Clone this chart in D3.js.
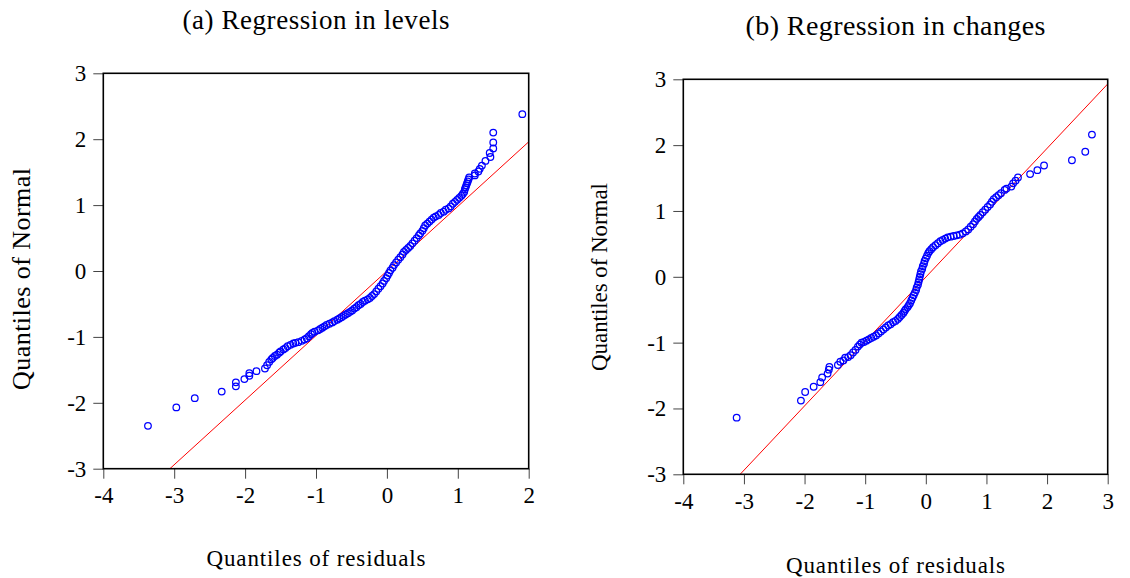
<!DOCTYPE html>
<html>
<head>
<meta charset="utf-8">
<script src="https://cdn.jsdelivr.net/npm/d3@7"></script>
<style>
  body { margin: 0; background: #fff; }
  svg text { font-family: "Liberation Serif", "Times New Roman", serif; fill: #000; }
</style>
</head>
<body>
<svg id="chart" width="1130" height="578"></svg>
<script>
// (a) regression in levels: [quantile of residuals, quantile of normal]
const levelsQQ = [
  [-3.37,-2.35],[-2.97,-2.07],[-2.71,-1.93],[-2.33,-1.83],[-2.13,-1.75],[-2.13,-1.69],
  [-2.01,-1.64],[-1.94,-1.59],[-1.94,-1.55],[-1.84,-1.52],[-1.72,-1.48],[-1.69,-1.43],
  [-1.66,-1.38],[-1.63,-1.34],[-1.61,-1.32],[-1.58,-1.29],[-1.55,-1.27],[-1.52,-1.24],
  [-1.50,-1.22],[-1.46,-1.19],[-1.43,-1.17],[-1.40,-1.14],[-1.36,-1.12],[-1.32,-1.10],
  [-1.29,-1.09],[-1.25,-1.08],[-1.20,-1.06],[-1.16,-1.04],[-1.13,-1.02],[-1.10,-0.99],
  [-1.07,-0.96],[-1.05,-0.94],[-1.02,-0.92],[-0.97,-0.90],[-0.94,-0.88],[-0.91,-0.86],
  [-0.88,-0.84],[-0.85,-0.82],[-0.81,-0.80],[-0.77,-0.78],[-0.74,-0.76],[-0.70,-0.74],
  [-0.67,-0.72],[-0.64,-0.70],[-0.61,-0.68],[-0.58,-0.66],[-0.55,-0.64],[-0.52,-0.62],
  [-0.49,-0.60],[-0.46,-0.57],[-0.43,-0.55],[-0.40,-0.52],[-0.37,-0.50],[-0.34,-0.47],
  [-0.31,-0.45],[-0.27,-0.43],[-0.24,-0.41],[-0.21,-0.38],[-0.18,-0.35],[-0.15,-0.31],
  [-0.12,-0.27],[-0.09,-0.23],[-0.06,-0.19],[-0.04,-0.15],[-0.01,-0.11],[0.01,-0.07],
  [0.03,-0.03],[0.05,0.01],[0.08,0.05],[0.10,0.09],[0.13,0.13],[0.16,0.17],[0.19,0.21],
  [0.22,0.25],[0.24,0.29],[0.27,0.32],[0.30,0.35],[0.33,0.38],[0.36,0.42],[0.39,0.46],
  [0.42,0.50],[0.45,0.54],[0.47,0.57],[0.50,0.61],[0.52,0.65],[0.54,0.69],[0.57,0.72],
  [0.60,0.75],[0.63,0.78],[0.66,0.81],[0.69,0.83],[0.73,0.85],[0.76,0.88],[0.80,0.90],
  [0.83,0.93],[0.87,0.95],[0.90,0.98],[0.93,1.02],[0.96,1.05],[0.99,1.08],[1.02,1.11],
  [1.05,1.14],[1.07,1.17],[1.09,1.20],[1.10,1.24],[1.11,1.27],[1.12,1.30],[1.13,1.33],
  [1.14,1.36],[1.15,1.39],[1.16,1.42],[1.24,1.45],[1.24,1.48],[1.29,1.51],[1.31,1.55],
  [1.34,1.60],[1.39,1.67],[1.46,1.73],[1.45,1.79],[1.50,1.86],[1.50,1.95],[1.50,2.10],
  [1.91,2.38]
];

// (b) regression in changes
const changesQQ = [
  [-3.12,-2.14],[-2.06,-1.88],[-1.99,-1.75],[-1.85,-1.67],[-1.74,-1.60],[-1.71,-1.53],
  [-1.62,-1.47],[-1.60,-1.41],[-1.59,-1.37],[-1.45,-1.34],[-1.41,-1.29],[-1.36,-1.27],
  [-1.33,-1.23],[-1.28,-1.22],[-1.24,-1.19],[-1.20,-1.15],[-1.16,-1.11],[-1.12,-1.06],
  [-1.09,-1.03],[-1.06,-1.00],[-1.02,-0.99],[-0.98,-0.97],[-0.94,-0.95],[-0.90,-0.93],
  [-0.86,-0.91],[-0.82,-0.89],[-0.78,-0.86],[-0.74,-0.83],[-0.70,-0.80],[-0.66,-0.77],
  [-0.62,-0.74],[-0.58,-0.72],[-0.54,-0.69],[-0.50,-0.67],[-0.46,-0.64],[-0.43,-0.61],
  [-0.40,-0.58],[-0.37,-0.55],[-0.35,-0.52],[-0.33,-0.49],[-0.30,-0.46],[-0.28,-0.43],
  [-0.26,-0.40],[-0.24,-0.36],[-0.22,-0.32],[-0.20,-0.28],[-0.18,-0.24],[-0.16,-0.20],
  [-0.15,-0.16],[-0.13,-0.12],[-0.12,-0.08],[-0.11,-0.04],[-0.10,0.00],[-0.09,0.04],
  [-0.08,0.08],[-0.06,0.12],[-0.05,0.16],[-0.03,0.20],[-0.02,0.24],[0.00,0.28],
  [0.02,0.32],[0.04,0.36],[0.06,0.39],[0.09,0.42],[0.12,0.45],[0.16,0.48],[0.20,0.51],
  [0.24,0.54],[0.28,0.56],[0.32,0.58],[0.36,0.60],[0.41,0.61],[0.46,0.62],[0.51,0.63],
  [0.56,0.64],[0.61,0.66],[0.66,0.69],[0.70,0.72],[0.74,0.76],[0.78,0.80],[0.81,0.84],
  [0.84,0.88],[0.87,0.91],[0.90,0.94],[0.94,0.98],[0.98,1.02],[1.02,1.06],[1.06,1.10],
  [1.09,1.14],[1.12,1.18],[1.16,1.21],[1.20,1.24],[1.24,1.27],[1.30,1.32],[1.33,1.34],
  [1.41,1.37],[1.44,1.42],[1.48,1.46],[1.52,1.51],[1.72,1.56],[1.84,1.62],[1.95,1.69],
  [2.41,1.77],[2.63,1.90],[2.74,2.16]
];

// reference lines (slope, intercept)
const levelsLine = [0.98, 0.0];
const changesLine = [0.978, -0.005];

const levelsXTicks = [-4, -3, -2, -1, 0, 1, 2];
const changesXTicks = [-4, -3, -2, -1, 0, 1, 2, 3];
const yTicks = [-3, -2, -1, 0, 1, 2, 3];

const titles = ["(a) Regression in levels", "(b) Regression in changes"];
const xLabel = "Quantiles of residuals";
const yLabel = "Quantiles of Normal";

const svg = d3.select('#chart');

function drawPanel(p) {
  const x = d3.scaleLinear().domain(d3.extent(p.xTicks)).range([p.left, p.right]);
  const y = d3.scaleLinear().domain([-3, 3]).range([p.bottom, p.top]);
  const g = svg.append('g');

  g.append('clipPath').attr('id', p.id)
    .append('rect')
    .attr('x', p.left).attr('y', p.top)
    .attr('width', p.right - p.left).attr('height', p.bottom - p.top);

  // fitted line
  const xs = x.domain();
  g.append('line')
    .attr('clip-path', `url(#${p.id})`)
    .attr('x1', x(xs[0])).attr('y1', y(p.line[0] * xs[0] + p.line[1]))
    .attr('x2', x(xs[1])).attr('y2', y(p.line[0] * xs[1] + p.line[1]))
    .attr('stroke', '#ff0000')
    .attr('stroke-width', 1);

  g.append('g')
    .selectAll('circle')
    .data(p.data)
    .enter()
    .append('circle')
    .attr('cx', d => x(d[0]))
    .attr('cy', d => y(d[1]))
    .attr('r', 3.3)
    .attr('fill', 'none')
    .attr('stroke', '#0000ff')
    .attr('stroke-width', 1.25);

  const xAxis = d3.axisBottom(x).tickValues(p.xTicks).tickSize(10).tickPadding(8);
  const yAxis = d3.axisLeft(y).tickValues(yTicks).tickSize(10).tickPadding(7);

  const ga = g.append('g').attr('transform', `translate(0, ${p.bottom})`).call(xAxis);
  const gy = g.append('g').attr('transform', `translate(${p.left}, 0)`).call(yAxis);
  [ga, gy].forEach(a => {
    a.select('.domain').remove();
    a.selectAll('.tick line').attr('stroke', '#444');
    a.selectAll('.tick text')
      .style('font-size', '23px')
      .style('font-family', '"Liberation Serif", serif')
      .attr('fill', '#000')
      .text(d => d < 0 ? '-' + Math.abs(d) : d);
  });

  g.append('rect')
    .attr('x', p.left).attr('y', p.top)
    .attr('width', p.right - p.left).attr('height', p.bottom - p.top)
    .attr('fill', 'none')
    .attr('stroke', '#000')
    .attr('stroke-width', 1.6);

  g.append('text')
    .attr('x', (p.left + p.right) / 2).attr('y', p.titleY)
    .attr('text-anchor', 'middle')
    .style('font-size', p.titleSize + 'px')
    .attr('textLength', p.titleLen)
    .text(p.title);

  g.append('text')
    .attr('x', (p.left + p.right) / 2).attr('y', p.xLabelY)
    .attr('text-anchor', 'middle')
    .style('font-size', '23px')
    .attr('textLength', 219)
    .text(xLabel);

  g.append('text')
    .attr('transform', `translate(${p.yLabelX}, ${p.yLabelMid}) rotate(-90)`)
    .attr('text-anchor', 'middle')
    .style('font-size', p.yLabelSize + 'px')
    .attr('textLength', p.yLabelLen)
    .text(yLabel);
}

drawPanel({
  id: 'clipA', data: levelsQQ, line: levelsLine, xTicks: levelsXTicks,
  left: 103.3, right: 528.7, top: 73.3, bottom: 468.7,
  title: titles[0], titleY: 29, titleSize: 27, titleLen: 267,
  xLabelY: 566, yLabelX: 30, yLabelMid: 279, yLabelSize: 26, yLabelLen: 222
});

drawPanel({
  id: 'clipB', data: changesQQ, line: changesLine, xTicks: changesXTicks,
  left: 683.3, right: 1107.7, top: 79.3, bottom: 474.3,
  title: titles[1], titleY: 34.5, titleSize: 28, titleLen: 300,
  xLabelY: 573, yLabelX: 607, yLabelMid: 277, yLabelSize: 23, yLabelLen: 188
});
</script>
</body>
</html>
